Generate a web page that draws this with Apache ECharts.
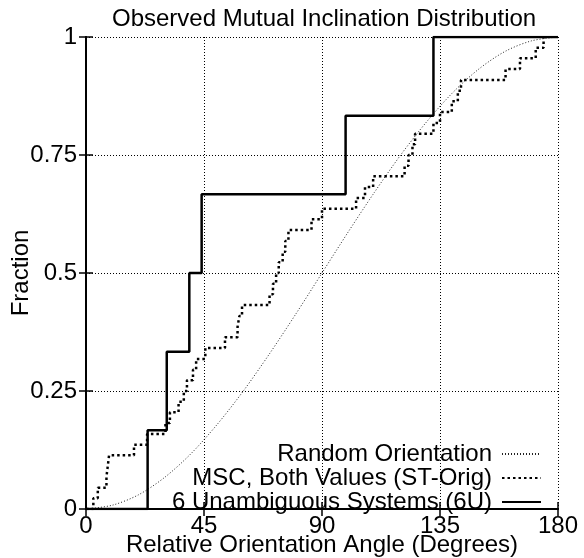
<!DOCTYPE html>
<html>
<head>
<meta charset="utf-8">
<script src="https://cdn.jsdelivr.net/npm/echarts@6/dist/echarts.min.js"></script>
<style>html,body{margin:0;padding:0;background:#fff}#c{width:584px;height:558px}</style>
</head>
<body>
<div id="c"></div>
<script>
// ---- data ----
const titleText = 'Observed Mutual Inclination Distribution';
const xName = 'Relative Orientation Angle (Degrees)';
const yName = 'Fraction';
const xTicks = [0, 45, 90, 135, 180];
const yTicks = [0, 0.25, 0.5, 0.75, 1];
const seriesNames = ['Random Orientation', 'MSC, Both Values (ST-Orig)', '6 Unambiguous Systems (6U)'];

// Random orientation curve (read at 10-degree steps)
const randomAngles = [0,10,20,30,40,50,60,70,80,90,100,110,120,130,140,150,160,170,180];
const randomFrac   = [0,0.008,0.030,0.067,0.117,0.179,0.25,0.329,0.413,0.5,0.587,0.671,0.75,0.821,0.883,0.933,0.970,0.992,1];

// MSC, both values: step positions and level after each step
const mscAngles = [0,2.8,4.5,7.8,8.3,8.8,18.3,23.3,30.3,32,35.3,37.3,38.5,40.8,42,45.5,53,57.8,58.5,59.5,70,71.3,72.5,73.5,75,76,77.2,86,90,103,106.4,109.5,121.5,123,124.5,125.5,132.5,135,139.5,141.8,143,160,165.5,171.5,174.5];
const mscFrac   = [0,0.023,0.045,0.068,0.091,0.114,0.136,0.159,0.182,0.205,0.227,0.25,0.273,0.295,0.318,0.341,0.364,0.386,0.409,0.432,0.455,0.477,0.5,0.523,0.545,0.568,0.591,0.614,0.636,0.659,0.682,0.705,0.727,0.75,0.773,0.795,0.818,0.841,0.864,0.886,0.909,0.932,0.955,0.977,1];

// 6 unambiguous systems
const u6Angles = [0,23.5,30.8,39.4,44.1,99,132.5,180];
const u6Frac   = [0,0.167,0.333,0.5,0.667,0.833,1,1];

const zip = (a, b) => a.map((v, i) => [v, b[i]]);
const FONT = '"Liberation Sans", Arial, Helvetica, sans-serif';

const chart = echarts.init(document.getElementById('c'), null, {renderer: 'canvas'});
const gridLine = {show: true, lineStyle: {color: '#000', width: 1, type: [1, 2]}};
const tickStyle = {show: true, inside: true, length: 7, lineStyle: {color: '#000', width: 1.5}};
const axisLine = {show: true, lineStyle: {color: '#000', width: 2}};
const labelStyle = {color: '#000', fontSize: 24, fontFamily: FONT};

chart.setOption({
  animation: false,
  backgroundColor: '#fff',
  title: {
    text: titleText, left: 112, top: 7, padding: 0,
    textStyle: {color: '#000', fontSize: 24, fontWeight: 'normal', fontFamily: FONT}
  },
  grid: {left: 86, right: 26, top: 37, bottom: 49, containLabel: false, outerBoundsMode: 'none'},
  legend: {
    orient: 'vertical', right: 42, top: 442, padding: 0, itemGap: 0,
    align: 'right', itemWidth: 39, itemHeight: 20,
    data: seriesNames,
    itemStyle: {opacity: 0},
    textStyle: {color: '#000', fontSize: 24, fontFamily: FONT, lineHeight: 20, padding: [0, 5, 0, 0]}
  },
  xAxis: [{
    type: 'value', min: 0, max: 180, interval: 45,
    name: xName, nameLocation: 'middle', nameGap: 24, nameMoveOverlap: false,
    nameTextStyle: labelStyle,
    axisLine: axisLine, axisTick: tickStyle, splitLine: gridLine,
    axisLabel: Object.assign({margin: 5, formatter: v => xTicks.includes(v) ? String(v) : ''}, labelStyle)
  }, {
    type: 'value', min: 0, max: 180, interval: 45, position: 'top',
    axisLine: axisLine, axisTick: tickStyle, splitLine: {show: false}, axisLabel: {show: false}
  }],
  yAxis: [{
    type: 'value', min: 0, max: 1, interval: 0.25,
    name: yName, nameLocation: 'middle', nameGap: 53, nameRotate: 90, nameMoveOverlap: false,
    nameTextStyle: labelStyle,
    axisLine: axisLine, axisTick: tickStyle, splitLine: gridLine,
    axisLabel: Object.assign({margin: 9, formatter: v => yTicks.includes(v) ? String(v) : ''}, labelStyle)
  }, {
    type: 'value', min: 0, max: 1, interval: 0.25, position: 'right',
    axisLine: axisLine, axisTick: tickStyle, splitLine: {show: false}, axisLabel: {show: false}
  }],
  series: [{
    name: seriesNames[0], type: 'line', data: zip(randomAngles, randomFrac),
    smooth: 0.3, symbol: 'none', z: 2,
    lineStyle: {color: '#222', width: 1, type: [1, 2]}, itemStyle: {color: '#222'}
  }, {
    name: seriesNames[1], type: 'line', data: zip(mscAngles, mscFrac),
    step: 'end', symbol: 'none', z: 3,
    lineStyle: {color: '#000', width: 2.5, type: [2.5, 3]}, itemStyle: {color: '#000'}
  }, {
    name: seriesNames[2], type: 'line', data: zip(u6Angles, u6Frac),
    step: 'end', symbol: 'none', z: 4,
    lineStyle: {color: '#000', width: 2.5}, itemStyle: {color: '#000'}
  }]
});
</script>
</body>
</html>
